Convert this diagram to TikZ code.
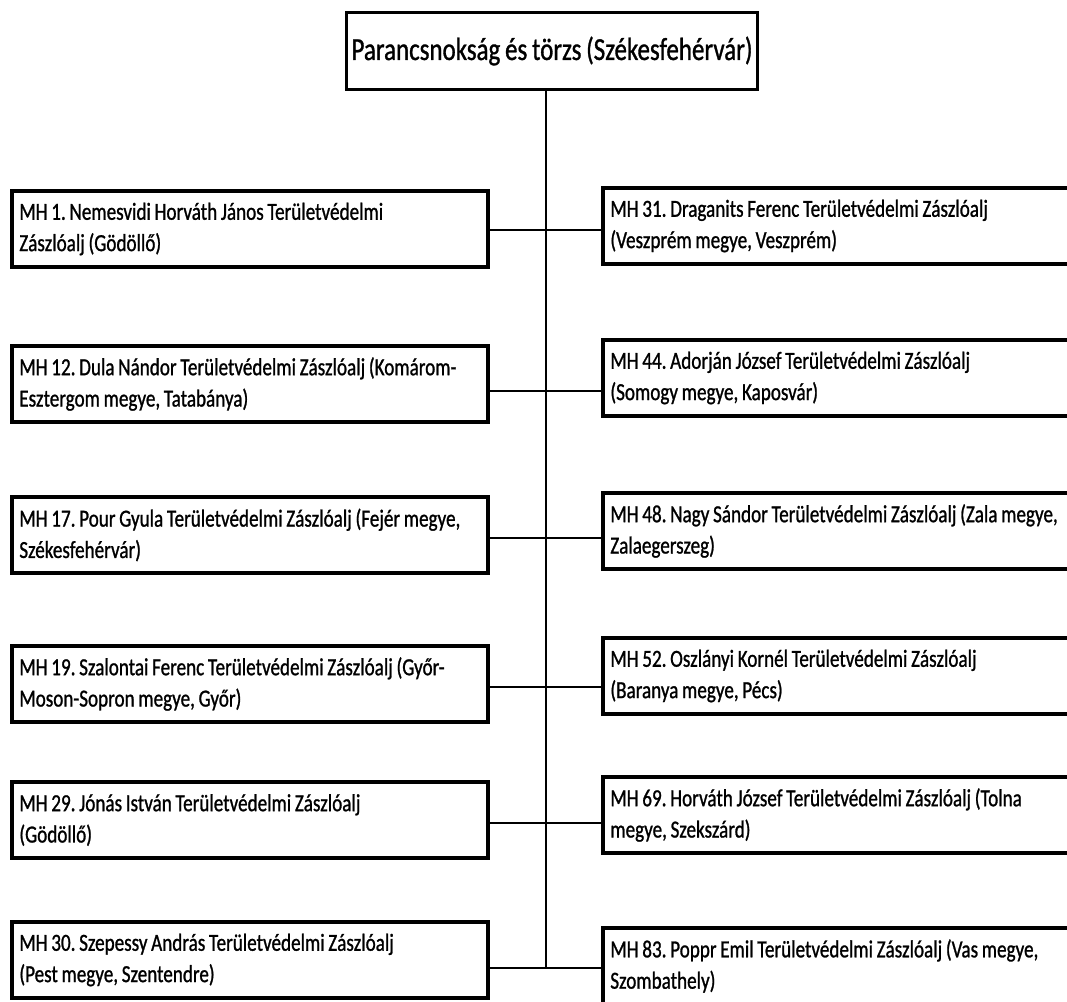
\documentclass[tikz,border=0pt]{standalone}
\usepackage{fontspec}
\setmainfont{Carlito}[FakeStretch=0.78,WordSpace=0.85,FakeBold=1.0]
\usetikzlibrary{calc}
\tikzset{
  hqbox/.style={draw,line width=2.6pt,minimum width=308pt,minimum height=58pt,
    inner sep=1pt,font=\fontsize{24}{28}\selectfont},
  unit/.style={draw,line width=2.6pt,minimum width=357pt,minimum height=57pt,
    text width=346pt,inner xsep=5.5pt,align=flush left,font=\fontsize{18.4}{23.5}\selectfont},
  trunk/.style={line width=1.6pt},
  branch/.style={line width=2.2pt}
}

\begin{document}
\frenchspacing
\begin{tikzpicture}[x=0.75pt,y=-0.75pt]
\useasboundingbox (0,0) rectangle (1067,1001);
\node[hqbox] (hq) at (552,51) {Parancsnokság és törzs (Székesfehérvár)};

% left column
\node[unit] (l1) at (250,229) {MH 1. Nemesvidi Horváth János Területvédelmi\\Zászlóalj (Gödöllő)};
\node[unit] (l2) at (250,384) {MH 12. Dula Nándor Területvédelmi Zászlóalj (Komárom-\\Esztergom megye, Tatabánya)};
\node[unit] (l3) at (250,535) {MH 17. Pour Gyula Területvédelmi Zászlóalj (Fejér megye,\\Székesfehérvár)};
\node[unit] (l4) at (250,684) {MH 19. Szalontai Ferenc Területvédelmi Zászlóalj (Győr-\\Moson-Sopron megye, Győr)};
\node[unit] (l5) at (250,820) {MH 29. Jónás István Területvédelmi Zászlóalj\\(Gödöllő)};
\node[unit] (l6) at (250,960) {MH 30. Szepessy András Területvédelmi Zászlóalj\\(Pest megye, Szentendre)};

% right column
\node[unit] (r1) at (841,226) {MH 31. Draganits Ferenc Területvédelmi Zászlóalj\\(Veszprém megye, Veszprém)};
\node[unit] (r2) at (841,378) {MH 44. Adorján József Területvédelmi Zászlóalj\\(Somogy megye, Kaposvár)};
\node[unit] (r3) at (841,531) {MH 48. Nagy Sándor Területvédelmi Zászlóalj (Zala megye,\\Zalaegerszeg)};
\node[unit] (r4) at (841,676) {MH 52. Oszlányi Kornél Területvédelmi Zászlóalj\\(Baranya megye, Pécs)};
\node[unit] (r5) at (841,815) {MH 69. Horváth József Területvédelmi Zászlóalj (Tolna\\megye, Szekszárd)};
\node[unit] (r6) at (841,966) {MH 83. Poppr Emil Területvédelmi Zászlóalj (Vas megye,\\Szombathely)};

% trunk and branches
\coordinate (tktop) at (546,0 |- hq.south);
\coordinate (tkend) at (546,968);
\draw[trunk] (tktop) -- (tkend);
\foreach \i/\y in {1/230,2/391,3/538,4/687,5/823,6/968}
  \draw[branch] (l\i.east |- 0,\y) -- (r\i.west |- 0,\y);
\end{tikzpicture}
\end{document}
